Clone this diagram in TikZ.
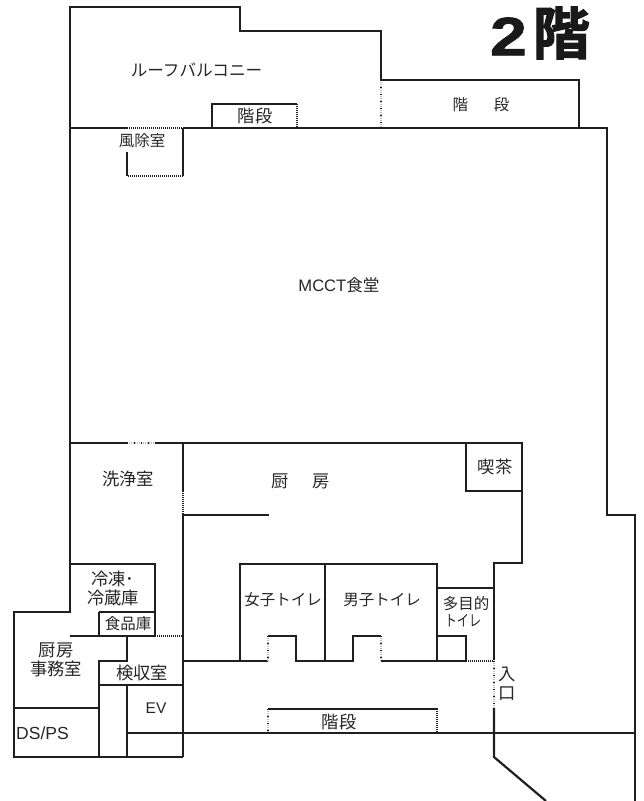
\documentclass[tikz,border=0pt]{standalone}
\usepackage{fontspec}
\setmainfont{Noto Sans CJK JP}
\newfontfamily\titlefont[FakeBold=2]{Noto Sans CJK JP Bold}
\newfontfamily\titledigit[FakeBold=1.5]{Liberation Sans Bold}
\newfontfamily\latinlabel{Liberation Sans}
\tikzset{
  wall/.style={line width=2.2pt,draw=black!88,line cap=butt,line join=miter},
  densedots/.style={line width=2.2pt,draw=black!88,dash pattern=on 1pt off 1pt},
  faintdots/.style={line width=1.6pt,draw=black!25,dash pattern=on 1pt off 1pt},
  faintmarks/.style={line width=1.6pt,draw=black!88,dash pattern=on 1pt off 6pt},
  lbl/.style={inner sep=0pt,font=\fontsize{15.5pt}{17pt}\selectfont,text=black!85,align=center},
  lblbig/.style={inner sep=0pt,font=\fontsize{17.3pt}{19pt}\selectfont,text=black!85,align=center},
  lblwide/.style={inner sep=0pt,font=\fontsize{16.6pt}{18pt}\selectfont,text=black!85,align=center},
  lbllatin/.style={inner sep=0pt,font=\latinlabel\fontsize{15.5pt}{17pt}\selectfont,text=black!85},
  lbllatinbig/.style={inner sep=0pt,font=\latinlabel\fontsize{17.5pt}{19pt}\selectfont,text=black!85}
}
\newcommand{\faintline}[2]{\draw[faintdots] #1 -- #2; \draw[faintmarks] #1 -- #2;}
\begin{document}
\begin{tikzpicture}[x=1pt,y=-1pt]
\useasboundingbox (0,0) rectangle (643,801);
% outer roof and stair walls
\draw[wall] (70,611) -- (70,7) -- (240,7) -- (240,31) -- (381,31) -- (381,80) -- (579,80) -- (579,128);
\draw[wall] (70,128) -- (127,128);
\draw[wall] (183,128) -- (607,128) -- (607,515) -- (635,515) -- (635,801);
\draw[wall] (212,128) -- (212,104) -- (297,104);
\draw[densedots] (297,104) -- (297,128);
\draw[densedots] (127,128) -- (183,128);
\draw[wall] (183,128) -- (183,176);
\draw[densedots] (183,176) -- (127,176);
\draw[wall] (127,176) -- (127,152);
\faintline{(381,80)}{(381,128)}
% kitchen block
\draw[wall] (70,443) -- (127,443);
\draw[wall] (155,443) -- (522,443) -- (522,563) -- (494,563) -- (494,660);
\faintline{(127,443)}{(155,443)}
\draw[wall] (183,443) -- (183,491);
\draw[densedots] (183,491) -- (183,515);
\draw[wall] (269,515) -- (183,515) -- (183,757);
\draw[wall] (466,443) -- (466,491) -- (522,491);
% toilets
\draw[wall] (183,661) -- (268,661);
\draw[wall] (240,661) -- (240,564) -- (438,564);
\draw[wall] (325,564) -- (325,661);
\draw[wall] (437,564) -- (437,661);
\faintline{(268,636)}{(268,661)}
\draw[wall] (268,636) -- (296,636) -- (296,661) -- (353,661) -- (353,636) -- (381,636);
\faintline{(381,636)}{(381,661)}
\draw[wall] (381,661) -- (466,661) -- (466,636) -- (437,636);
\draw[wall] (437,588) -- (494,588);
\draw[densedots] (466,661) -- (494,661);
% entrance and lower stairs
\faintline{(494,661)}{(494,708)}
\draw[wall] (494,708) -- (494,757) -- (546,801);
\draw[wall] (127,733) -- (635,733);
\draw[wall] (268,709) -- (438,709);
\faintline{(268,709)}{(268,733)}
\draw[densedots] (437,709) -- (437,733);
% service rooms
\draw[wall] (70,564) -- (155,564) -- (155,636);
\draw[wall] (99,612) -- (155,612);
\draw[wall] (70,636) -- (155,636);
\draw[densedots] (155,636) -- (183,636);
\draw[wall] (99,612) -- (99,636);
\draw[wall] (71,612) -- (14,612) -- (14,757) -- (183,757);
\draw[wall] (127,636) -- (127,661) -- (99,661) -- (99,757);
\draw[wall] (99,685) -- (183,685);
\draw[wall] (127,685) -- (127,757);
\draw[wall] (14,708) -- (99,708);
% labels
\node[inner sep=0pt,text=black!90] (title) at (540,33) {\raisebox{-1pt}{\titledigit\fontsize{54pt}{56pt}\selectfont\scalebox{1.22}[1]{2}}\hspace{6pt}\titlefont\fontsize{57pt}{60pt}\selectfont 階};
\node[lblwide] (balcony) at (196.5,70) {ルーフバルコニー};
\node[lblbig] (stairsa) at (255,116) {階段};
\node[lbl] (stairsb) at (481,105) {階\hspace{26pt}段};
\node[lbl] (windroom) at (142,141) {風除室};
\node[lblwide] (dining) at (339,285) {\latinlabel MCCT\fontspec{Noto Sans CJK JP}食堂};
\node[lblbig] (wash) at (128,479) {洗浄室};
\node[lblbig] (kitchen) at (301,481) {厨\hspace{24pt}房};
\node[lblbig] (cafe) at (495,467) {喫茶};
\node[lblbig] (freezer) at (113,588) {冷凍･\\冷蔵庫};
\node[lbl] (pantry) at (128,624) {食品庫};
\node[lblbig] (office) at (56,660) {厨房\\事務室};
\node[lblbig] (inspect) at (142,673) {検収室};
\node[lbllatin] (ev) at (156,708) {EV};
\node[lbllatinbig] (ds) at (42.5,733) {DS/PS};
\node[lbl] (women) at (283,600) {女子トイレ};
\node[lbl] (men) at (382,600) {男子トイレ};
\node[lbl] (multi) at (466,612) {多目的\\\hspace*{-6pt}\scalebox{0.78}[1]{トイレ}};
\node[lblbig] (entrance) at (507.5,684) {入\\口};
\node[lblbig] (stairsc) at (339,722) {階段};
\end{tikzpicture}
\end{document}
